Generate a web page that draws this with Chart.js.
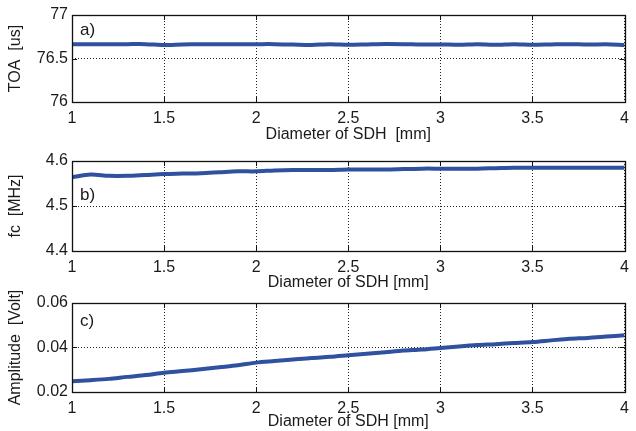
<!DOCTYPE html>
<html>
<head>
<meta charset="utf-8">
<script src="https://cdn.jsdelivr.net/npm/chart.js@4"></script>
<style>
  html, body { margin:0; padding:0; background:#fff; }
  body { width:636px; height:431px; position:relative; overflow:hidden; }
  canvas { position:absolute; left:0; }
</style>
</head>
<body>
<canvas id="ca" width="636" height="150" style="top:0px"></canvas>
<canvas id="cb" width="636" height="150" style="top:146px"></canvas>
<canvas id="cc" width="636" height="143" style="top:288px"></canvas>
<script>
// ---- data ----
const diameters = [1.0,1.1,1.2,1.3,1.4,1.5,1.6,1.7,1.8,1.9,2.0,2.1,2.2,2.3,2.4,2.5,2.6,2.7,2.8,2.9,3.0,3.1,3.2,3.3,3.4,3.5,3.6,3.7,3.8,3.9,4.0];
const toaValues = [76.665,76.665,76.665,76.665,76.665,76.655,76.662,76.665,76.665,76.665,76.665,76.665,76.660,76.655,76.665,76.657,76.662,76.667,76.665,76.660,76.662,76.657,76.665,76.658,76.665,76.658,76.662,76.665,76.660,76.664,76.655];
const fcValues = [4.564,4.570,4.567,4.567,4.569,4.571,4.572,4.573,4.575,4.577,4.577,4.579,4.580,4.580,4.580,4.581,4.581,4.581,4.582,4.583,4.583,4.583,4.583,4.584,4.585,4.585,4.585,4.585,4.585,4.585,4.585];
const ampValues = [0.0248,0.0253,0.0259,0.0268,0.0276,0.0287,0.0294,0.0302,0.0311,0.0320,0.0332,0.0339,0.0346,0.0353,0.0358,0.0365,0.0372,0.0379,0.0386,0.0391,0.0398,0.0405,0.0411,0.0415,0.0420,0.0425,0.0432,0.0439,0.0443,0.0449,0.0455];
const xTicks = [1, 1.5, 2, 2.5, 3, 3.5, 4];
const toaTicks = [76, 76.5, 77];
const fcTicks = [4.4, 4.5, 4.6];
const ampTicks = [0.02, 0.04, 0.06];
const xTitles = ['Diameter of SDH  [mm]', 'Diameter of SDH [mm]', 'Diameter of SDH [mm]'];
const yTitles = ['TOA  [us]', 'fc  [MHz]', 'Amplitude  [Volt]'];
const panelLabels = ['a)', 'b)', 'c)'];

const FONT = 'Liberation Sans, Arial, sans-serif';
const TXT = '#1a1a1a';
const LINE = '#3050a0';
const FS = 16;

const framePlugin = {
  id: 'frame',
  afterDatasetsDraw(chart, args, opts) {
    const {ctx, chartArea: a, scales} = chart;
    ctx.save();
    ctx.strokeStyle = '#111';
    ctx.lineWidth = 1;
    const L = 5;
    ctx.beginPath();
    scales.x.ticks.forEach(t => {
      const px = Math.round(scales.x.getPixelForValue(t.value)) + 0.5;
      ctx.moveTo(px, a.bottom); ctx.lineTo(px, a.bottom - L);
      ctx.moveTo(px, a.top); ctx.lineTo(px, a.top + L);
    });
    scales.y.ticks.forEach(t => {
      const py = Math.round(scales.y.getPixelForValue(t.value)) + 0.5;
      ctx.moveTo(a.left, py); ctx.lineTo(a.left + L, py);
      ctx.moveTo(a.right, py); ctx.lineTo(a.right - L, py);
    });
    ctx.stroke();
    ctx.lineWidth = 1.3;
    ctx.strokeRect(Math.round(a.left)+0.5, Math.round(a.top)+0.5, Math.round(a.right-a.left), Math.round(a.bottom-a.top));
    ctx.fillStyle = TXT;
    ctx.font = '17px ' + FONT;
    ctx.textBaseline = 'middle';
    ctx.textAlign = 'left';
    ctx.fillText(opts.label, a.left + 8, a.top + opts.labelDy);
    ctx.restore();
  }
};

function makePanel(id, values, yTicks, idx, plotH, titlePadBottom, labelDy) {
  const canvas = document.getElementById(id);
  const H = canvas.height;
  const points = diameters.map((d, i) => ({x: d, y: values[i]}));
  new Chart(canvas, {
    type: 'line',
    data: { datasets: [{ data: points, borderColor: LINE, borderWidth: 4, pointRadius: 0, tension: 0.3, fill: false }] },
    options: {
      responsive: false,
      animation: false,
      layout: { padding: { top: 15, right: 6, left: 0, bottom: 0 } },
      plugins: { legend: { display: false }, tooltip: { enabled: false },
                 frame: { label: panelLabels[idx], labelDy: labelDy } },
      scales: {
        x: {
          type: 'linear', min: xTicks[0], max: xTicks[xTicks.length-1],
          afterBuildTicks: s => { s.ticks = xTicks.map(v => ({value: v})); },
          afterFit: s => { s.height = H - 15 - plotH; },
          ticks: { font: { family: FONT, size: FS }, color: TXT, padding: 7, maxRotation: 0, autoSkip: false, callback: v => String(v) },
          grid: { color: '#222', lineWidth: 1, drawTicks: false },
          border: { display: false, dash: [1, 2] },
          title: { display: true, text: xTitles[idx], font: { family: FONT, size: FS }, color: TXT, padding: { top: 0, bottom: titlePadBottom } }
        },
        y: {
          type: 'linear', min: yTicks[0], max: yTicks[yTicks.length-1],
          afterBuildTicks: s => { s.ticks = yTicks.map(v => ({value: v})); },
          afterFit: s => { s.width = 72; },
          ticks: { font: { family: FONT, size: FS }, color: TXT, padding: 4, callback: v => String(v) },
          grid: { color: '#222', lineWidth: 1, drawTicks: false },
          border: { display: false, dash: [1, 2] },
          title: { display: true, text: yTitles[idx], font: { family: FONT, size: FS }, color: TXT, padding: { top: 6, bottom: 0 } }
        }
      }
    },
    plugins: [framePlugin]
  });
}

makePanel('ca', toaValues, toaTicks, 0, 87, 6, 15);
makePanel('cb', fcValues, fcTicks, 1, 90, 4, 34);
makePanel('cc', ampValues, ampTicks, 2, 89, 0, 18);
</script>
</body>
</html>
